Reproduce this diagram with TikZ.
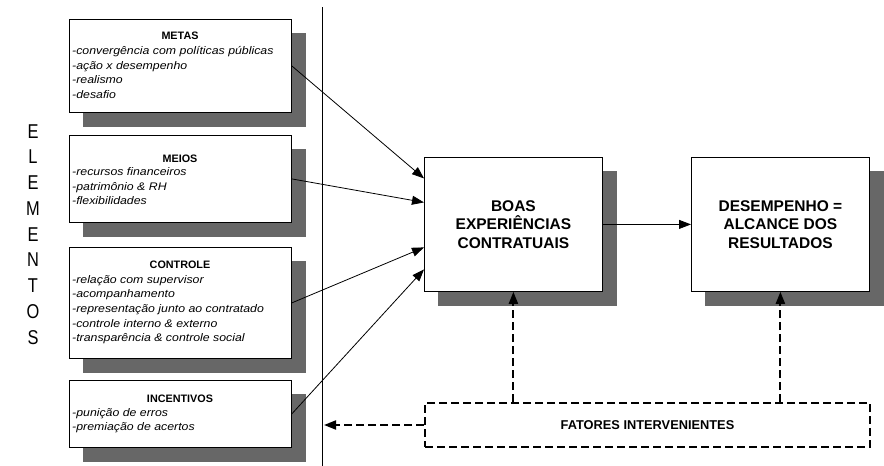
\documentclass[tikz,border=0pt]{standalone}
\usepackage{fontspec}
\setmainfont{Liberation Sans}
\newfontfamily\itemfamily{Liberation Sans}[FakeStretch=1.12]
\newfontfamily\elemfamily{Liberation Sans}[FakeStretch=0.82]
\usetikzlibrary{arrows.meta,backgrounds}
\definecolor{shadowgray}{HTML}{676767}
\begin{document}
\begin{tikzpicture}[x=1pt,y=-1pt,
  box/.style={draw, fill=white, line width=0.8pt, inner sep=0pt, anchor=north west},
  shadowbox/.style={fill=shadowgray},
  boxtitle/.style={font=\fontsize{10.8}{12}\selectfont\bfseries, anchor=base, inner sep=0pt},
  item/.style={font=\fontsize{11}{13}\itemfamily\itshape, anchor=base west, inner sep=0pt},
  bigtext/.style={font=\fontsize{15.5}{18.5}\selectfont\bfseries, align=center},
  elem/.style={font=\fontsize{20}{21}\elemfamily, anchor=base, inner sep=0pt},
  arr/.style={-{Triangle[length=12pt,width=9pt]}, line width=0.8pt},
  dsh/.style={line width=2pt, dash pattern=on 8pt off 4pt},
  dsharr/.style={dsh, -{Triangle[length=12pt,width=9pt]}}]
\useasboundingbox (0,0) rectangle (884,466);

% left boxes
\node[box, minimum width=222pt, minimum height=93pt] (metas) at (69,19) {};
\node[box, minimum width=222pt, minimum height=87pt] (meios) at (69,135) {};
\node[box, minimum width=222pt, minimum height=111pt] (controle) at (69,247) {};
\node[box, minimum width=222pt, minimum height=67pt] (incentivos) at (69,380) {};

% central boxes
\node[box, bigtext, minimum width=178pt, minimum height=134pt] (boas) at (424,157) {BOAS\\EXPERIÊNCIAS\\CONTRATUAIS};
\node[box, bigtext, minimum width=178pt, minimum height=134pt] (des) at (691,157) {DESEMPENHO =\\ALCANCE DOS\\RESULTADOS};
\node[box, dsh, minimum width=445pt, minimum height=44pt, font=\fontsize{12.8}{14}\selectfont\bfseries] (fat) at (424,402) {FATORES INTERVENIENTES};

% shadows
\begin{scope}[on background layer]
  \foreach \b in {metas,meios,controle,incentivos,boas,des}
    \fill[shadowbox] ([shift={(13.5,13.5)}]\b.north west) rectangle ([shift={(14,14)}]\b.south east);
\end{scope}

% titles
\node[boxtitle] (metas-t) at (180,39) {METAS};
\node[boxtitle] (meios-t) at (180,162) {MEIOS};
\node[boxtitle] (controle-t) at (180,268) {CONTROLE};
\node[boxtitle] (incentivos-t) at (180,402) {INCENTIVOS};

% items
\foreach \t [count=\i] in {{-convergência com políticas públicas},{-ação x desempenho},{-realismo},{-desafio}}
  \node[item] (metas-\i) at (72,{54.5+14.7*(\i-1)}) {\t};
\foreach \t [count=\i] in {{-recursos financeiros},{-patrimônio \& RH},{-flexibilidades}}
  \node[item] (meios-\i) at (72,{175.5+14.7*(\i-1)}) {\t};
\foreach \t [count=\i] in {{-relação com supervisor},{-acompanhamento},{-representação junto ao contratado},{-controle interno \& externo},{-transparência \& controle social}}
  \node[item] (controle-\i) at (72,{283+14.7*(\i-1)}) {\t};
\foreach \t [count=\i] in {{-punição de erros},{-premiação de acertos}}
  \node[item] (incentivos-\i) at (72,{416+14.7*(\i-1)}) {\t};

% ELEMENTOS
\foreach \l [count=\i] in {E,L,E,M,E,N,T,O,S}
  \node[elem] (elem-\i) at (33,{138+25.75*(\i-1)}) {\l};

% vertical line
\coordinate (vtop) at (322,7);
\coordinate (vbot) at (322,466);
\draw[line width=0.8pt] (vtop) -- (vbot);

% arrows
\draw[arr] (metas.east) -- ([yshift=46pt]boas.west);
\draw[arr] (meios.east) -- ([yshift=22pt]boas.west);
\draw[arr] (controle.east) -- ([yshift=-23pt]boas.west);
\draw[arr] (incentivos.east) -- ([yshift=-45pt]boas.west);
\draw[arr] (boas.east) -- (des.west);

% dashed arrows
\draw[dsharr] (boas.south |- fat.north) -- (boas.south);
\draw[dsharr] (des.south |- fat.north) -- (des.south);
\draw[dsharr] (fat.west) -- ([xshift=2pt]fat.west -| vtop);
\end{tikzpicture}
\end{document}
